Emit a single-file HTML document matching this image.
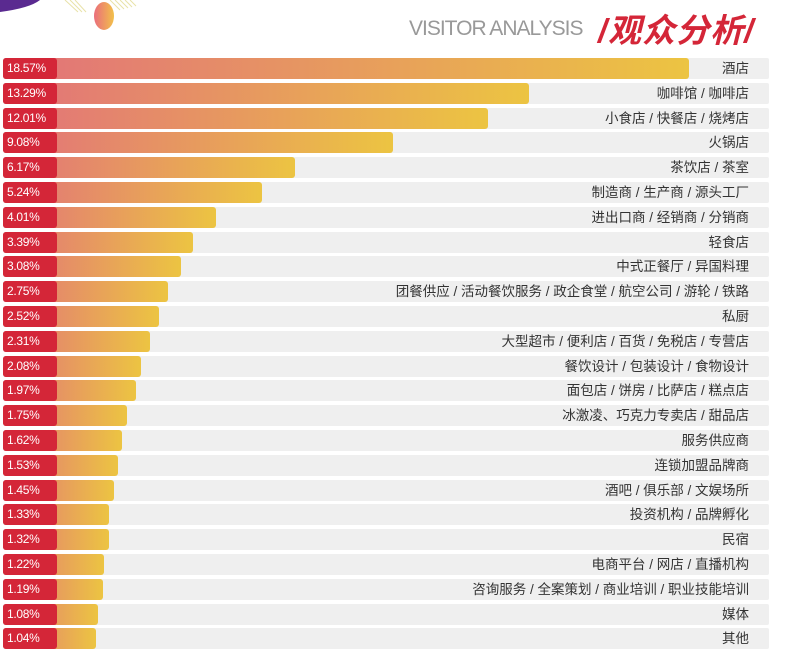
<!DOCTYPE html>
<html><head><meta charset="utf-8">
<style>
body{margin:0;width:800px;height:667px;background:#fff;position:relative;overflow:hidden;font-family:"Liberation Sans","Noto Sans CJK SC",sans-serif}
.row{position:absolute;left:3px;width:766px;height:21px;background:#efefef;border-radius:2px}
.bar{position:absolute;left:0;top:0;height:21px;border-radius:3px;background:linear-gradient(90deg,#e2727a,#ecc442)}
.lab{position:absolute;left:0;top:0;height:21px;background:#d42638;border-radius:3px;color:#fff;font-size:12px;line-height:21px;padding-left:4px;width:50px;letter-spacing:-0.3px}
.cat{position:absolute;right:20px;top:0;line-height:21px;font-size:13.5px;color:#333}
</style></head><body>
<svg style="position:absolute;left:0;top:0" width="200" height="40">
<path d="M0 0 L40 0 Q30 8 0 12Z" fill="#5a2a90"/>
<g stroke="#e8e2a8" stroke-width="1">
<line x1="65" y1="0" x2="78" y2="12"/><line x1="70" y1="0" x2="82" y2="12"/><line x1="75" y1="0" x2="86" y2="12"/><line x1="110" y1="0" x2="120" y2="10"/><line x1="115" y1="0" x2="124" y2="9"/><line x1="120" y1="0" x2="128" y2="8"/><line x1="125" y1="0" x2="132" y2="7"/><line x1="130" y1="0" x2="136" y2="6"/>
</g>
<defs><linearGradient id="cg" x1="0" x2="1"><stop offset="0" stop-color="#ea6e7c"/><stop offset="1" stop-color="#f2c04a"/></linearGradient></defs>
<ellipse cx="104" cy="16" rx="10" ry="14" fill="url(#cg)"/>
</svg>
<div style="position:absolute;left:409px;top:17px;font-size:21px;color:#999;letter-spacing:-1px;font-weight:300">VISITOR ANALYSIS</div>
<div style="position:absolute;left:598px;top:4px;font-size:33px;color:#d42638;font-weight:bold;font-style:italic;letter-spacing:1px">/观众分析/</div>
<div id="chart"></div>
<script>
const categories=["酒店","咖啡馆 / 咖啡店","小食店 / 快餐店 / 烧烤店","火锅店","茶饮店 / 茶室","制造商 / 生产商 / 源头工厂","进出口商 / 经销商 / 分销商","轻食店","中式正餐厅 / 异国料理","团餐供应 / 活动餐饮服务 / 政企食堂 / 航空公司 / 游轮 / 铁路","私厨","大型超市 / 便利店 / 百货 / 免税店 / 专营店","餐饮设计 / 包装设计 / 食物设计","面包店 / 饼房 / 比萨店 / 糕点店","冰激凌、巧克力专卖店 / 甜品店","服务供应商","连锁加盟品牌商","酒吧 / 俱乐部 / 文娱场所","投资机构 / 品牌孵化","民宿","电商平台 / 网店 / 直播机构","咨询服务 / 全案策划 / 商业培训 / 职业技能培训","媒体","其他"];
const values=[18.57,13.29,12.01,9.08,6.17,5.24,4.01,3.39,3.08,2.75,2.52,2.31,2.08,1.97,1.75,1.62,1.53,1.45,1.33,1.32,1.22,1.19,1.08,1.04];
const labels=values.map(v=>v.toFixed(2)+"%");
function xScale(v){return Math.min(689, 40+54.2*Math.pow(v,0.85));}
function yScale(i){return 58+i*24.8;}
const chart=document.getElementById('chart');
values.forEach((v,i)=>{
 const row=document.createElement('div');row.className='row';row.style.top=yScale(i)+'px';
 
 
 const bar=document.createElement('div');bar.className='bar';bar.style.width=(xScale(v)-3)+'px';
 
 
 const lab=document.createElement('div');lab.className='lab';lab.textContent=labels[i];
 
 
 const cat=document.createElement('div');cat.className='cat';cat.textContent=categories[i];
 
 
 row.appendChild(bar);row.appendChild(lab);row.appendChild(cat);chart.appendChild(row);
});
</script>
</body></html>
